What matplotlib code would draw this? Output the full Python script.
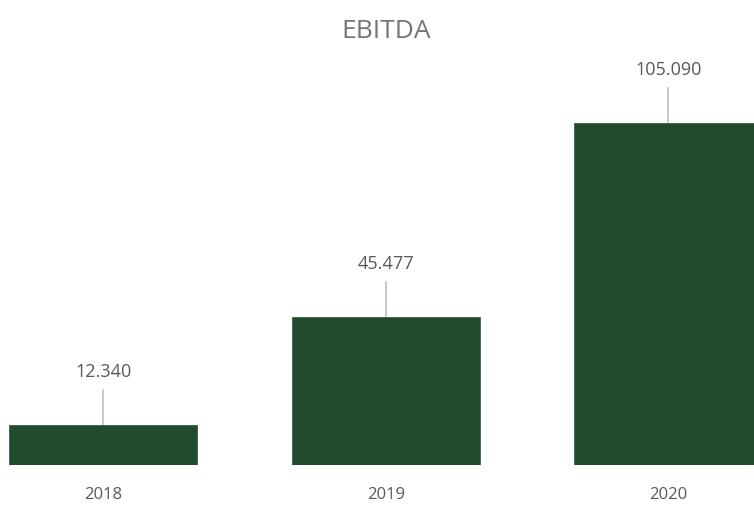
import matplotlib.pyplot as plt
import numpy as np

plt.rcParams['font.family'] = ['Open Sans', 'DejaVu Sans']

years = ['2018', '2019', '2020']
ebitda = [12.340, 45.477, 105.090]
labels = ['12.340', '45.477', '105.090']

fig = plt.figure(figsize=(7.54, 5.07), dpi=100)
ax = fig.add_axes([0, 42/507, 1, 415/507])

x = np.arange(len(years))
ax.bar(x, ebitda, width=0.665, color='#224B2C', edgecolor='#3E5E45', lw=0.6, zorder=2)

ax.set_xlim(-0.366, 2.303)
ax.set_ylim(0, 415/3.254)

# leader lines + value labels
px = 415/ax.get_ylim()[1]  # pixels per unit
for xi, v, lab in zip(x, ebitda, labels):
    ax.plot([xi, xi], [v, v + 35/px], color='#BFBFBF', lw=1.2, zorder=1)
    ax.text(xi, v + 53/px, lab, ha='center', va='center', fontsize=13, color='#595959')

ax.set_xticks(x)
ax.set_xticklabels(years, fontsize=12, color='#595959')
ax.tick_params(axis='x', length=0, pad=16)
ax.set_yticks([])
for s in ['top', 'right', 'left', 'bottom']:
    ax.spines[s].set_visible(False)

fig.text(386/754, 1 - 31/507, 'EBITDA', ha='center', va='center', fontsize=19, color='#757575')

fig.savefig('out.png', dpi=100)
